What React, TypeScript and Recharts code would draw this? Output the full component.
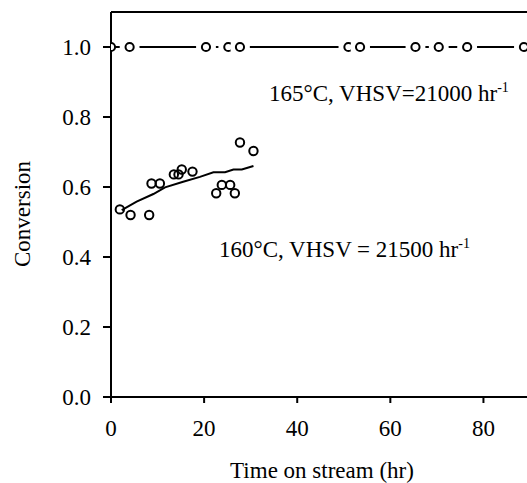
import React from "react";
import {
  ComposedChart,
  Line,
  Scatter,
  XAxis,
  YAxis,
  ReferenceLine,
} from "recharts";

// Top series: 165°C, VHSV=21000 hr-1 (conversion stays at 1.0)
const topTimes = [0, 4, 20.4, 25.2, 27.7, 51, 53.5, 65.4, 70.4, 76.5, 88.7];
const topConv = [1, 1, 1, 1, 1, 1, 1, 1, 1, 1, 1];

// Bottom series: 160°C, VHSV = 21500 hr-1 (measured points)
const lowTimes = [1.9, 4.2, 8.2, 8.7, 10.5, 13.5, 14.5, 15.2, 17.5, 22.6, 23.8, 25.6, 26.6, 27.7, 30.6];
const lowConv = [0.536, 0.52, 0.52, 0.61, 0.61, 0.636, 0.636, 0.65, 0.644, 0.582, 0.606, 0.606, 0.582, 0.727, 0.703];

// Bottom series fitted curve
const fitTimes = [2.3, 5.5, 9.1, 11.6, 15.5, 19.1, 22, 24.5, 26.3, 28.1, 30.6];
const fitConv = [0.534, 0.558, 0.58, 0.599, 0.615, 0.629, 0.642, 0.642, 0.65, 0.65, 0.66];

const xTicks = [0, 20, 40, 60, 80];
const yTicks = [0, 0.2, 0.4, 0.6, 0.8, 1.0];

const topData = topTimes.map((x, i) => ({ x, y: topConv[i] }));
const lowData = lowTimes.map((x, i) => ({ x, y: lowConv[i] }));
const fitData = fitTimes.map((x, i) => ({ x, y: fitConv[i] }));

const FONT = "'Liberation Serif', 'Times New Roman', serif";

const XTick = (props: any) => {
  const { x, y, payload } = props;
  return (
    <text x={x} y={y} dy={16} textAnchor="middle" fontFamily={FONT} fontSize={23} fill="#000">
      {String(payload.value)}
    </text>
  );
};

const YTick = (props: any) => {
  const { x, y, payload } = props;
  return (
    <text x={x} y={y} dy={8} textAnchor="end" fontFamily={FONT} fontSize={23} fill="#000">
      {Number(payload.value).toFixed(1)}
    </text>
  );
};

const TopDot = (props: any) => {
  const { cx, cy, payload } = props;
  if (cx == null || cy == null) return null;
  return (
    <g>
      {payload && payload.x > 0 ? <circle cx={cx} cy={cy} r={10} fill="#fff" stroke="none" /> : null}
      <circle cx={cx} cy={cy} r={4.1} fill="#fff" stroke="#000" strokeWidth={2} />
    </g>
  );
};

const OpenCircle = (props: any) => {
  const { cx, cy } = props;
  if (cx == null || cy == null) return null;
  return <circle cx={cx} cy={cy} r={4.2} fill="none" stroke="#000" strokeWidth={2} />;
};

export default function App() {
  return (
    <div style={{ position: "absolute", left: 0, top: 0, width: 527, height: 483, background: "#fff", fontFamily: FONT }}>
      <ComposedChart
        width={527}
        height={483}
        margin={{ top: 12, right: -3, bottom: 0, left: 0 }}
      >
        <XAxis
          dataKey="x"
          type="number"
          domain={[0, 90]}
          ticks={xTicks}
          tick={<XTick />}
          tickLine={{ stroke: "#000", strokeWidth: 2 }}
          axisLine={{ stroke: "#000", strokeWidth: 2 }}
          tickSize={6}
          tickMargin={17}
          height={86}
          allowDataOverflow
        />
        <YAxis
          dataKey="y"
          type="number"
          domain={[0, 1.1]}
          ticks={yTicks}
          tick={<YTick />}
          tickLine={{ stroke: "#000", strokeWidth: 2 }}
          axisLine={{ stroke: "#000", strokeWidth: 2 }}
          tickSize={8}
          tickMargin={12}
          width={111}
          allowDataOverflow
        />
        <ReferenceLine y={1.1} stroke="#000" strokeWidth={2} />
        <Line
          data={topData}
          dataKey="y"
          stroke="#000"
          strokeWidth={1.8}
          dot={<TopDot />}
          activeDot={false}
          isAnimationActive={false}
          type="linear"
        />
        <Line
          data={fitData}
          dataKey="y"
          stroke="#000"
          strokeWidth={2}
          dot={false}
          activeDot={false}
          isAnimationActive={false}
          type="linear"
        />
        <Scatter
          data={lowData}
          dataKey="y"
          shape={<OpenCircle />}
          isAnimationActive={false}
        />
      </ComposedChart>
      <svg
        width={527}
        height={483}
        style={{ position: "absolute", left: 0, top: 0, pointerEvents: "none" }}
      >
        <text x={269} y={101} fontFamily={FONT} fontSize={23} fill="#000">
          165°C, VHSV=21000 hr
          <tspan fontSize={14} dy={-9}>-1</tspan>
        </text>
        <text x={219} y={257} fontFamily={FONT} fontSize={23} fill="#000">
          160°C, VHSV = 21500 hr
          <tspan fontSize={14} dy={-9}>-1</tspan>
        </text>
        <text
          x={30}
          y={214}
          transform="rotate(-90 30 214)"
          textAnchor="middle"
          fontFamily={FONT}
          fontSize={23}
          fill="#000"
        >
          Conversion
        </text>
        <text x={322} y={478} textAnchor="middle" fontFamily={FONT} fontSize={23} fill="#000">
          Time on stream (hr)
        </text>
      </svg>
    </div>
  );
}
